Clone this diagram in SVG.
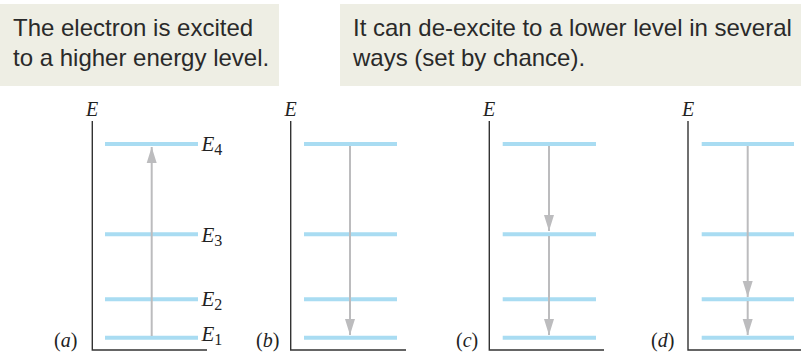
<svg xmlns="http://www.w3.org/2000/svg" width="801" height="352" viewBox="0 0 801 352">
<style>
.box{fill:#eeeee4}
.cap{font-family:"Liberation Sans",Arial,sans-serif;font-size:24px;fill:#2a2a2a}
.axis{fill:none;stroke:#333;stroke-width:1.4}
.lvl{stroke:#a9dcf2;stroke-width:4}
.arr{stroke:#bcbcbe;stroke-width:2;marker-end:url(#ah)}
.math{font-family:"Liberation Serif","Times New Roman",serif;font-style:italic;fill:#222}
.ax{font-size:20px}
.lab{font-size:21px}
.sub{font-size:16px;font-style:normal}
.pl{font-family:"Liberation Serif","Times New Roman",serif;font-size:20px;fill:#222}
</style>
<defs>
<marker id="ah" markerUnits="userSpaceOnUse" markerWidth="17" markerHeight="11" viewBox="0 0 17 11" refX="16" refY="5.5" orient="auto">
<path d="M0,0.5 L16,5.5 L0,10.5 z" fill="#bcbcbe"/>
</marker>
</defs>
<g id="caption1">
<rect class="box" x="0" y="4" width="279" height="82"/>
<text class="cap" x="13" y="35.5">The electron is excited</text>
<text class="cap" x="13" y="66">to a higher energy level.</text>
</g>
<g id="caption2">
<rect class="box" x="340" y="4" width="461" height="82"/>
<text class="cap" x="353" y="35.5">It can de-excite to a lower level in several</text>
<text class="cap" x="353" y="66">ways (set by chance).</text>
</g>
<g id="panel-a">
<path class="axis" d="M92.3,121 V350 H207"/>
<text class="math ax" x="86" y="116">E</text>
<line class="lvl" x1="105" y1="144" x2="198" y2="144"/>
<line class="lvl" x1="105" y1="234.3" x2="198" y2="234.3"/>
<line class="lvl" x1="105" y1="299.3" x2="198" y2="299.3"/>
<line class="lvl" x1="105" y1="337.7" x2="198" y2="337.7"/>
<text class="math lab" x="201.5" y="151">E<tspan class="sub" dy="4">4</tspan></text>
<text class="math lab" x="201.5" y="241.5">E<tspan class="sub" dy="4">3</tspan></text>
<text class="math lab" x="201.5" y="306">E<tspan class="sub" dy="4">2</tspan></text>
<text class="math lab" x="201.5" y="340.5">E<tspan class="sub" dy="4">1</tspan></text>
<text class="pl" x="54" y="347">(<tspan font-style="italic">a</tspan>)</text>
</g>
<g id="panel-b">
<path class="axis" d="M290.7,121 V350 H406"/>
<text class="math ax" x="284.5" y="116">E</text>
<line class="lvl" x1="304" y1="144" x2="397" y2="144"/>
<line class="lvl" x1="304" y1="234.3" x2="397" y2="234.3"/>
<line class="lvl" x1="304" y1="299.3" x2="397" y2="299.3"/>
<line class="lvl" x1="304" y1="337.7" x2="397" y2="337.7"/>
<text class="pl" x="256" y="347">(<tspan font-style="italic">b</tspan>)</text>
</g>
<g id="panel-c">
<path class="axis" d="M489.3,121 V350 H604"/>
<text class="math ax" x="483" y="116">E</text>
<line class="lvl" x1="502.7" y1="144" x2="596" y2="144"/>
<line class="lvl" x1="502.7" y1="234.3" x2="596" y2="234.3"/>
<line class="lvl" x1="502.7" y1="299.3" x2="596" y2="299.3"/>
<line class="lvl" x1="502.7" y1="337.7" x2="596" y2="337.7"/>
<text class="pl" x="456" y="347">(<tspan font-style="italic">c</tspan>)</text>
</g>
<g id="panel-d">
<path class="axis" d="M688,121 V350 H801"/>
<text class="math ax" x="682" y="116">E</text>
<line class="lvl" x1="701.7" y1="144" x2="794" y2="144"/>
<line class="lvl" x1="701.7" y1="234.3" x2="794" y2="234.3"/>
<line class="lvl" x1="701.7" y1="299.3" x2="794" y2="299.3"/>
<line class="lvl" x1="701.7" y1="337.7" x2="794" y2="337.7"/>
<text class="pl" x="651" y="347">(<tspan font-style="italic">d</tspan>)</text>
</g>
<g id="connectors">
<line class="arr" x1="151.7" y1="336" x2="151.7" y2="147"/>
<line class="arr" x1="350" y1="146" x2="350" y2="335"/>
<line class="arr" x1="549" y1="146" x2="549" y2="231"/>
<line class="arr" x1="549" y1="236" x2="549" y2="335"/>
<line class="arr" x1="747.7" y1="146" x2="747.7" y2="297"/>
<line class="arr" x1="747.7" y1="301" x2="747.7" y2="335"/>
</g>
</svg>
